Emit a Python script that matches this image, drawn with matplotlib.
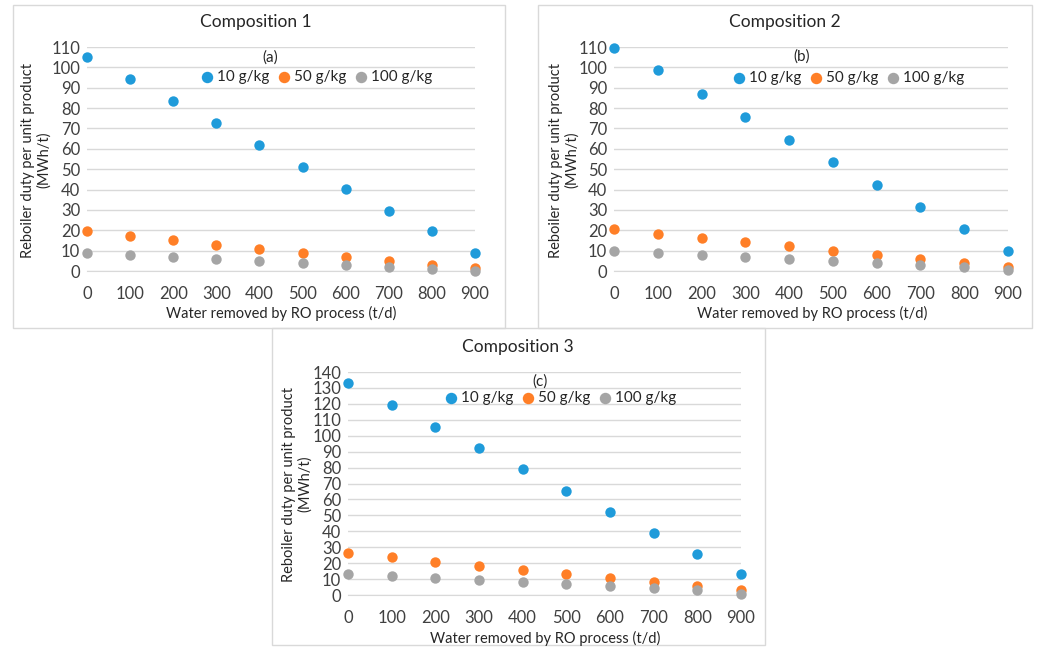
import matplotlib
matplotlib.use("Agg")
import matplotlib.pyplot as plt
from matplotlib.patches import Rectangle

plt.rcParams['font.family'] = ['Lato', 'DejaVu Sans']

x_removed = [0, 100, 200, 300, 400, 500, 600, 700, 800, 900]
series_names = ["10 g/kg", "50 g/kg", "100 g/kg"]

comp1_10 = [105.3, 94.5, 83.6, 72.7, 61.9, 51.0, 40.2, 29.7, 19.5, 8.9]
comp1_50 = [19.4, 17.0, 15.1, 13.0, 11.0, 9.0, 7.1, 5.1, 3.1, 1.3]
comp1_100 = [8.9, 7.9, 6.9, 5.9, 4.9, 3.9, 3.0, 2.0, 1.1, 0.2]

comp2_10 = [109.4, 98.5, 87.0, 75.7, 64.5, 53.4, 42.2, 31.4, 20.5, 10.0]
comp2_50 = [20.5, 18.4, 16.3, 14.3, 12.2, 10.0, 8.0, 5.9, 4.1, 2.0]
comp2_100 = [10.0, 9.0, 7.9, 6.9, 5.9, 4.9, 3.8, 2.8, 1.8, 0.5]

comp3_10 = [133.3, 119.3, 105.5, 92.4, 78.8, 65.2, 51.8, 38.7, 25.7, 13.0]
comp3_50 = [26.1, 23.6, 20.9, 18.4, 15.7, 13.4, 10.9, 8.4, 5.6, 2.9]
comp3_100 = [13.4, 12.1, 10.7, 9.6, 8.1, 6.9, 5.6, 4.2, 2.9, 0.4]

titles = ["Composition 1", "Composition 2", "Composition 3"]
letters = ["(a)", "(b)", "(c)"]
x_label = "Water removed by RO process (t/d)"
y_label = "Reboiler duty per unit product\n(MWh/t)"

colors = ["#1F9BDA", "#FF7F27", "#A5A5A5"]

W, H = 1037, 649
fig = plt.figure(figsize=(W / 100, H / 100), dpi=100)

def fx(px):
    return px / W

def fy(py):
    return 1 - py / H

panels = [
    dict(box=(13, 5, 505, 328), ax=(87, 475, 47, 271), ymax=110,
         title_xy=(256, 22), xlab_xy=(281, 313), ylab_xy=(36, 160),
         letter_xy=(270, 58), leg_xy=(316, 77),
         data=[comp1_10, comp1_50, comp1_100]),
    dict(box=(538, 5, 1032, 328), ax=(614, 1008, 47, 271), ymax=110,
         title_xy=(785, 22), xlab_xy=(812, 313), ylab_xy=(564, 160),
         letter_xy=(802, 57), leg_xy=(848, 78),
         data=[comp2_10, comp2_50, comp2_100]),
    dict(box=(272, 328, 765, 645), ax=(348, 741, 372, 595), ymax=140,
         title_xy=(518, 347), xlab_xy=(545, 638), ylab_xy=(297, 484),
         letter_xy=(540, 382), leg_xy=(560, 398),
         data=[comp3_10, comp3_50, comp3_100]),
]

for i, p in enumerate(panels):
    x0, y0, x1, y1 = p["box"]
    fig.patches.append(Rectangle((fx(x0), fy(y1)), fx(x1 - x0), (y1 - y0) / H,
                                 transform=fig.transFigure, fill=False,
                                 edgecolor="#D9D9D9", linewidth=1.0, zorder=0))
    l, r, t, b = p["ax"]
    ax = fig.add_axes([fx(l), fy(b), fx(r - l), (b - t) / H])
    for s, c, name in zip(p["data"], colors, series_names):
        ax.scatter(x_removed, s, s=56, color=c, label=name, clip_on=False,
                   zorder=3, linewidths=0)
    ax.set_xlim(0, 900)
    ax.set_ylim(0, p["ymax"])
    ax.set_xticks(x_removed)
    ax.set_yticks(range(0, p["ymax"] + 1, 10))
    ax.tick_params(length=0, labelsize=12, colors="#404040", pad=5)
    ax.tick_params(axis="x", pad=11)
    for sp in ["top", "right", "left"]:
        ax.spines[sp].set_visible(False)
    ax.spines["bottom"].set_color("#D9D9D9")
    ax.grid(axis="y", color="#D9D9D9", linewidth=1.0)
    ax.set_axisbelow(True)

    fig.text(fx(p["title_xy"][0]), fy(p["title_xy"][1]), titles[i],
             ha="center", va="center", fontsize=12.5, color="#262626")
    fig.text(fx(p["xlab_xy"][0]), fy(p["xlab_xy"][1]), x_label,
             ha="center", va="center", fontsize=10.5, color="#262626")
    fig.text(fx(p["ylab_xy"][0]), fy(p["ylab_xy"][1]), y_label,
             ha="center", va="center", rotation=90, fontsize=10.5,
             color="#262626", linespacing=1.1)
    fig.text(fx(p["letter_xy"][0]), fy(p["letter_xy"][1]), letters[i],
             ha="center", va="center", fontsize=11, color="#262626")
    leg = ax.legend(loc="center", bbox_to_anchor=(fx(p["leg_xy"][0]), fy(p["leg_xy"][1])),
                    bbox_transform=fig.transFigure, ncol=3, frameon=False,
                    fontsize=11, handletextpad=0.2, columnspacing=0.5,
                    handlelength=0.9, borderpad=0, markerscale=1.1)
    for t in leg.get_texts():
        t.set_color("#262626")

fig.savefig("out.png", dpi=100)
